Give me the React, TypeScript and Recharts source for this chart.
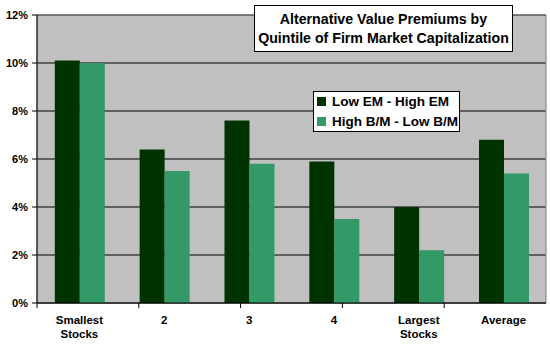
import React from 'react';
import { BarChart, Bar, XAxis, YAxis, CartesianGrid, ReferenceArea } from 'recharts';

const categories = ['Smallest\nStocks', '2', '3', '4', 'Largest\nStocks', 'Average'];
const lowEmHighEm = [10.1, 6.4, 7.6, 5.9, 4.0, 6.8];
const highBmLowBm = [10.0, 5.5, 5.8, 3.5, 2.2, 5.4];
const yTicks = [0, 2, 4, 6, 8, 10, 12];
const seriesNames = ['Low EM - High EM', 'High B/M - Low B/M'];
const seriesColors = ['#003300', '#339966'];
const titleLines = ['Alternative Value Premiums by', 'Quintile of Firm Market Capitalization'];

const data = categories.map((name, i) => ({ name, em: lowEmHighEm[i], bm: highBmLowBm[i] }));
const boundaryTicks = categories.map((_, i) => i).concat([categories.length]);

const FONT = '"Liberation Sans", Arial, sans-serif';

const CatTick = (props: any) => {
  const { x, y, payload } = props;
  const lines = String(payload.value).split('\n');
  return (
    <text x={x} y={y} textAnchor="middle" fontFamily={FONT} fontWeight="bold" fontSize={11.5} fill="#000">
      {lines.map((l, i) => (
        <tspan key={i} x={x} dy={i === 0 ? 8 : 14}>{l}</tspan>
      ))}
    </text>
  );
};

export default function App() {
  return (
    <div style={{ position: 'absolute', left: 0, top: 0, width: 550, height: 350, background: '#fff' }}>
      <BarChart
        width={550}
        height={350}
        data={data}
        margin={{ top: 15, right: 4, bottom: 12, left: 0 }}
        barCategoryGap="21%"
        barGap={0}
      >
        <CartesianGrid xAxisId="b" vertical={false} stroke="#000" fill="#C0C0C0" fillOpacity={1} />
        <XAxis
          xAxisId="b"
          dataKey="name"
          height={30}
          axisLine={false}
          tickLine={false}
          interval={0}
          tick={<CatTick />}
        />
        <XAxis
          xAxisId="a"
          type="number"
          domain={[0, categories.length]}
          ticks={boundaryTicks}
          allowDataOverflow
          height={5}
          tickSize={5}
          tickFormatter={() => ''}
          axisLine={{ stroke: '#000' }}
          tickLine={{ stroke: '#000' }}
        />
        <YAxis
          domain={[0, 12]}
          ticks={yTicks}
          width={37}
          tickSize={5}
          tickMargin={4}
          interval={0}
          tickFormatter={(v: number) => `${v}%`}
          axisLine={{ stroke: '#000' }}
          tickLine={{ stroke: '#000' }}
          tick={{ fill: '#000', fontFamily: FONT, fontWeight: 'bold', fontSize: 11 }}
        />
        <Bar xAxisId="b" dataKey="em" name={seriesNames[0]} fill={seriesColors[0]} isAnimationActive={false} />
        <Bar xAxisId="b" dataKey="bm" name={seriesNames[1]} fill={seriesColors[1]} isAnimationActive={false} />
        <ReferenceArea xAxisId="b" y1={0} y2={12} fill="none" stroke="#808080" strokeWidth={1} ifOverflow="visible" />
      </BarChart>
      <div
        style={{
          position: 'absolute', left: 254, top: 5, width: 259, height: 47,
          background: '#fff', border: '1px solid #000', fontFamily: FONT, fontWeight: 'bold',
          fontSize: 14.2, textAlign: 'center', lineHeight: '19px', paddingTop: 4, boxSizing: 'border-box', color: '#000',
          whiteSpace: 'nowrap',
        }}
      >
        {titleLines.map((t, i) => <div key={i}>{t}</div>)}
      </div>
      <div
        style={{
          position: 'absolute', left: 313, top: 91, width: 147, height: 41,
          background: '#fff', border: '1px solid #000', fontFamily: FONT, fontWeight: 'bold',
          fontSize: 13.5, boxSizing: 'border-box', color: '#000', paddingTop: 0, whiteSpace: 'nowrap',
        }}
      >
        {seriesNames.map((n, i) => (
          <div key={i} style={{ display: 'flex', alignItems: 'center', height: 19.5, paddingLeft: 3 }}>
            <span style={{ display: 'inline-block', width: 9, height: 9, background: seriesColors[i], marginRight: 6, flexShrink: 0 }} />
            <span>{n}</span>
          </div>
        ))}
      </div>
    </div>
  );
}
